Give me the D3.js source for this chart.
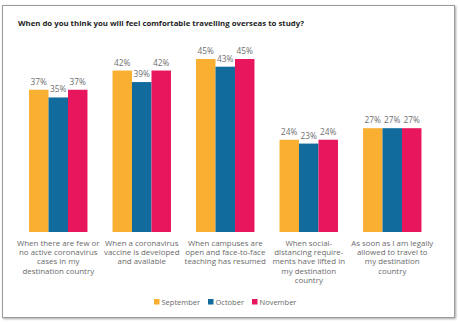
<!DOCTYPE html>
<html>
<head>
<meta charset="utf-8">
<script src="https://cdn.jsdelivr.net/npm/d3@7"></script>
<style>
  body { margin: 0; background: #fff; }
  svg { display: block; font-family: "Open Sans", sans-serif; }
</style>
</head>
<body>
<svg id="chart" width="459" height="323"></svg>
<script>
    // answer options, already broken into lines
    var categories = [
        ["When there are few or", "no active coronavirus", "cases in my", "destination country"],
        ["When a coronavirus", "vaccine is developed", "and available"],
        ["When campuses are", "open and face-to-face", "teaching has resumed"],
        ["When social-", "distancing require-", "ments have lifted in", "my destination", "country"],
        ["As soon as I am legally", "allowed to travel to", "my destination", "country"]
    ];
    var months = ["September", "October", "November"];
    var september = [37, 42, 45, 24, 27];
    var october = [35, 39, 43, 23, 27];
    var november = [37, 42, 45, 24, 27];
    var colors = ["#f9af31", "#126b9d", "#e8175d"];

    var series = [september, october, november];
    var svg = d3.select("#chart");

    // card with a soft shadow
    var defs = svg.append("defs");
    var f = defs.append("filter").attr("id", "shadow")
        .attr("x", "-5%").attr("y", "-5%").attr("width", "110%").attr("height", "110%");
    f.append("feDropShadow").attr("dx", 1).attr("dy", 1).attr("stdDeviation", 1.2)
        .attr("flood-color", "#000").attr("flood-opacity", 0.35);
    svg.append("rect")
        .attr("x", 2.5).attr("y", 5.5).attr("width", 452).attr("height", 312)
        .attr("fill", "#fff").attr("stroke", "#9a9a9a").attr("stroke-width", 1)
        .attr("filter", "url(#shadow)");

    svg.append("text")
        .attr("x", 18).attr("y", 26)
        .attr("font-size", 7.8).attr("font-weight", "bold").attr("fill", "#1e1e1e")
        .text("When do you think you will feel comfortable travelling overseas to study?");

    var x0 = d3.scaleBand().domain(d3.range(categories.length)).range([16.5, 434]).paddingInner(0.3).paddingOuter(0.15);
    var x1 = d3.scaleBand().domain(d3.range(months.length)).range([0, x0.bandwidth()]);
    var y = d3.scaleLinear().domain([0, 45]).range([232, 59]);

    var groups = svg.selectAll("g.group")
        .data(categories).enter()
        .append("g")
        .attr("class", "group")
        .attr("transform", function(d, i) { return "translate(" + x0(i) + ",0)"; });

    groups.selectAll("rect")
        .data(function(d, i) { return series.map(function(s, k) { return {k: k, v: s[i]}; }); })
        .enter()
        .append("rect")
        .attr("x", function(d) { return x1(d.k); })
        .attr("width", x1.bandwidth())
        .attr("y", function(d) { return y(d.v); })
        .attr("height", function(d) { return y(0) - y(d.v); })
        .attr("fill", function(d) { return colors[d.k]; });

    groups.selectAll("text.val")
        .data(function(d, i) { return series.map(function(s, k) { return {k: k, v: s[i]}; }); })
        .enter()
        .append("text")
        .attr("class", "val")
        .attr("x", function(d) { return x1(d.k) + x1.bandwidth() / 2; })
        .attr("y", function(d) { return y(d.v) - 5; })
        .attr("text-anchor", "middle")
        .attr("font-size", 8.3).attr("fill", "#6e6e6e")
        .text(function(d) { return d.v + "%"; });

    // category labels under the bars
    groups.append("text")
        .attr("text-anchor", "middle")
        .attr("font-size", 7.9).attr("fill", "#6a6a6a")
        .selectAll("tspan")
        .data(function(d) { return d; }).enter()
        .append("tspan")
        .attr("x", x0.bandwidth() / 2)
        .attr("y", function(d, j) { return 246 + j * 9.2; })
        .text(function(d) { return d; });

    // legend
    var legendX = [154, 208, 252];
    var legend = svg.selectAll("g.legend")
        .data(months).enter()
        .append("g")
        .attr("class", "legend")
        .attr("transform", function(d, i) { return "translate(" + legendX[i] + ",299)"; });
    legend.append("rect")
        .attr("width", 5.5).attr("height", 5.5)
        .attr("fill", function(d, i) { return colors[i]; });
    legend.append("text")
        .attr("x", 7.5).attr("y", 5.5)
        .attr("font-size", 7.5).attr("fill", "#6a6a6a")
        .text(function(d) { return d; });
</script>
</body>
</html>
